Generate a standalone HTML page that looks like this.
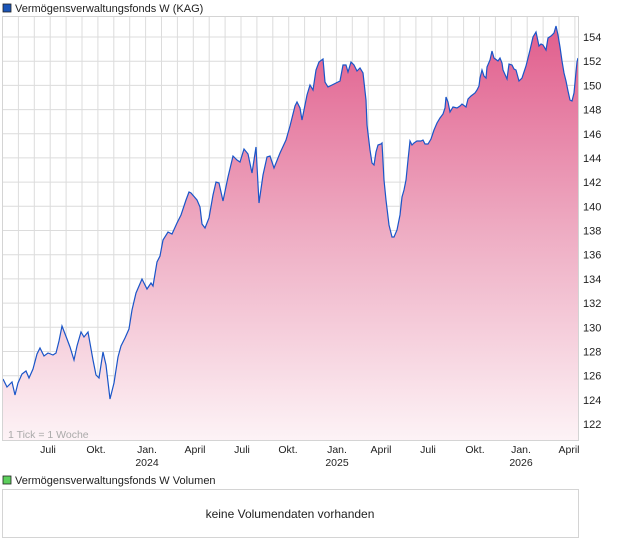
<!DOCTYPE html>
<html><head><meta charset="utf-8"><style>
body{margin:0;background:#fff;width:620px;height:546px;overflow:hidden;font-family:"Liberation Sans",sans-serif;}
svg{position:absolute;left:0;top:0}
</style></head><body>
<svg width="620" height="546" viewBox="0 0 620 546" xmlns="http://www.w3.org/2000/svg" font-family="Liberation Sans, sans-serif">
<defs>
<linearGradient id="g" x1="0" y1="17" x2="0" y2="441" gradientUnits="userSpaceOnUse">
<stop offset="0" stop-color="#e05a8a"/>
<stop offset="0.5" stop-color="#eeabc2"/>
<stop offset="1" stop-color="#fdf3f6"/>
</linearGradient>
</defs>
<rect x="3" y="4" width="8" height="8" fill="#1a55b8" stroke="#222" stroke-width="0.8"/>
<text x="15" y="12" font-size="11" fill="#222">Vermögensverwaltungsfonds W (KAG)</text>
<g stroke="#dcdcdc" stroke-width="1" id="grid"></g>
<path id="area" fill="url(#g)"/>
<path id="line" fill="none" stroke="#1a55c8" stroke-width="1.2"/>
<rect x="2.5" y="16.5" width="576" height="424" fill="none" stroke="#d4d4d4"/>
<text x="8" y="438" font-size="10.5" fill="#aaa">1 Tick = 1 Woche</text>
<g font-size="11" fill="#222" id="ylab"></g>
<g font-size="10.5" fill="#222" text-anchor="middle">
<text x="48" y="453">Juli</text><text x="96" y="453">Okt.</text><text x="147" y="453">Jan.</text><text x="147" y="466">2024</text>
<text x="195" y="453">April</text><text x="242" y="453">Juli</text><text x="288" y="453">Okt.</text><text x="337" y="453">Jan.</text><text x="337" y="466">2025</text>
<text x="381" y="453">April</text><text x="428" y="453">Juli</text><text x="475" y="453">Okt.</text><text x="521" y="453">Jan.</text><text x="521" y="466">2026</text><text x="569" y="453">April</text>
</g>
<rect x="3" y="476" width="8" height="8" fill="#5ccf5c" stroke="#222" stroke-width="0.8"/>
<text x="15" y="484" font-size="11" fill="#222">Vermögensverwaltungsfonds W Volumen</text>
<rect x="2.5" y="489.5" width="576" height="48" fill="none" stroke="#d4d4d4"/>
<text x="290" y="518" font-size="12" fill="#222" text-anchor="middle">keine Volumendaten vorhanden</text>
</svg>
<script>
var g=document.getElementById('grid'),s='';
for(var x=2.5;x<578;x+=15.9)s+='<line x1="'+x.toFixed(1)+'" y1="17" x2="'+x.toFixed(1)+'" y2="441"/>';
var yl='';
for(var k=0;k<=16;k++){var y=37+24.19*k;s+='<line x1="3" y1="'+y.toFixed(1)+'" x2="578" y2="'+y.toFixed(1)+'"/>';yl+='<text x="583" y="'+(y+4).toFixed(1)+'">'+(154-2*k)+'</text>';}
g.innerHTML=s;document.getElementById('ylab').innerHTML=yl;
var p=[[3,379],[7,387],[12,382],[15,395],[18,383],[22,374],[26,371],[29,378],[33,369],[37,354],[40,348],[44,356],[48,353],[53,355],[56,353],[59,341],[62,326],[67,339],[70,347],[74,360],[77,346],[81,332],[84,337],[88,332],[93,360],[96,375],[99,378],[103,352],[106,365],[110,399],[114,383],[118,357],[121,346],[125,338],[129,329],[132,310],[136,293],[142,279],[147,289],[151,283],[153,286],[157,262],[160,256],[163,240],[168,232],[172,234],[177,223],[181,215],[186,200],[189,192],[191,193],[197,200],[200,207],[202,224],[205,228],[209,218],[213,195],[216,182],[219,183],[223,201],[228,177],[233,156],[237,160],[240,162],[244,149],[248,154],[252,173],[256,147],[259,203],[263,175],[267,157],[270,156],[274,168],[280,153],[286,140],[290,126],[295,106],[297,102],[300,108],[302,120],[307,95],[310,85],[313,90],[316,70],[319,62],[323,59],[325,82],[328,87],[332,85],[336,83],[340,81],[343,65],[346,65],[348,72],[351,62],[354,65],[357,71],[360,68],[363,73],[366,100],[367,125],[370,150],[372,163],[374,165],[376,152],[378,145],[381,144],[382,143],[384,180],[386,200],[389,225],[392,237],[394,237],[397,230],[400,215],[402,197],[404,190],[406,180],[408,160],[410,141],[412,145],[414,143],[417,141],[421,141],[423,140],[425,144],[428,144],[431,139],[434,130],[437,123],[440,118],[443,114],[445,108],[446,97],[448,102],[450,112],[453,107],[457,108],[460,106],[462,104],[466,107],[468,99],[471,96],[475,93],[477,90],[479,86],[480,78],[482,70],[484,76],[486,78],[487,67],[490,60],[492,51],[494,58],[498,61],[500,58],[502,63],[503,70],[507,79],[509,64],[512,65],[514,69],[516,70],[519,81],[522,78],[526,66],[530,50],[533,37],[536,32],[539,46],[541,44],[543,45],[546,50],[548,38],[551,36],[554,33],[556,26],[558,35],[560,47],[562,61],[564,73],[566,81],[568,91],[570,100],[572,101],[574,93],[576,72],[577,62],[578,58]];
var d='M'+p.map(function(q){return q[0]+','+q[1]}).join(' L');
document.getElementById('line').setAttribute('d',d);
document.getElementById('area').setAttribute('d',d+' L578,441 L3,441 Z');
</script>
</body></html>
